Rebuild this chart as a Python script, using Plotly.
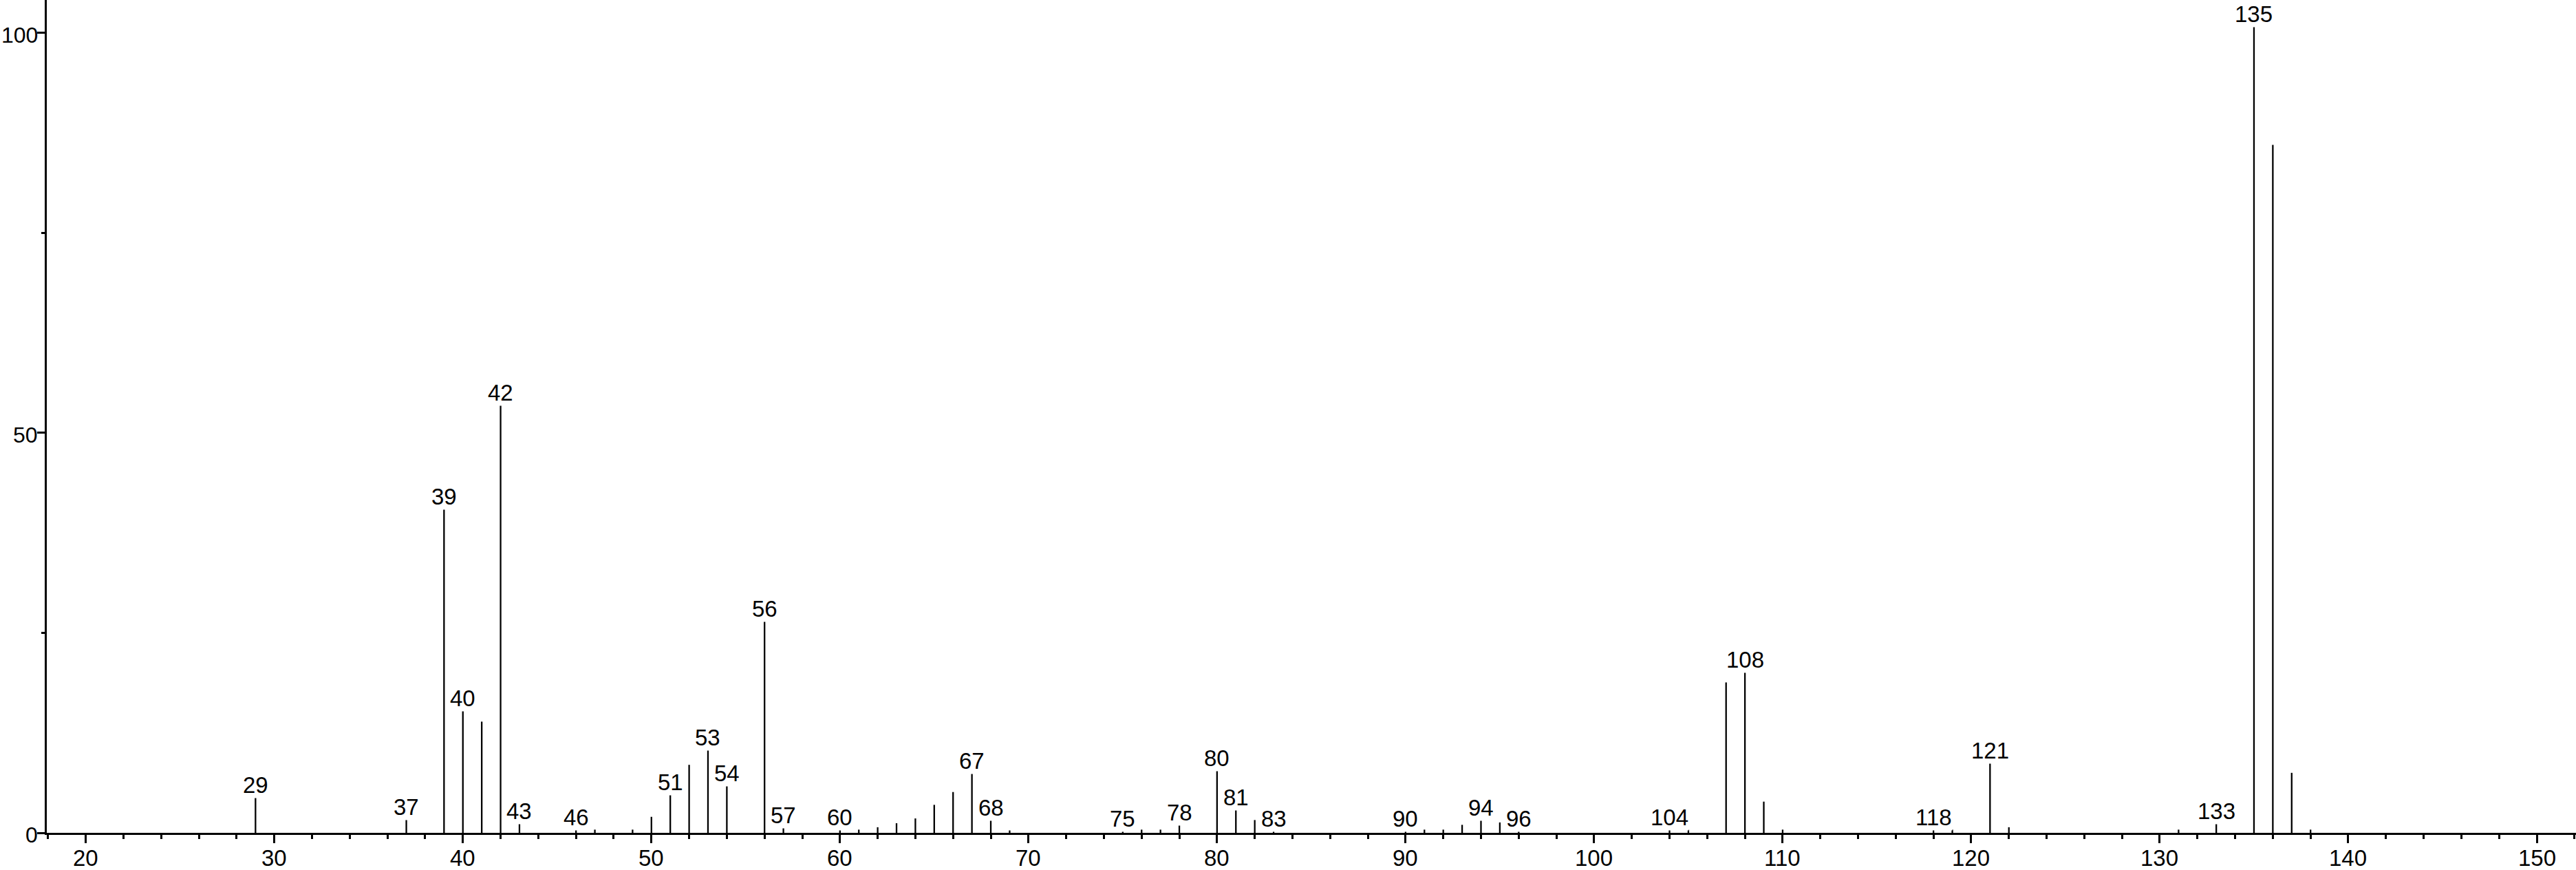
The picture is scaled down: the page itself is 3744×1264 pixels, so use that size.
import plotly.graph_objects as go

# m/z values and relative intensities
mz = [29, 37, 39, 40, 41, 42, 43, 46, 47, 49, 50, 51, 52, 53, 54, 56, 57,
      60, 61, 62, 63, 64, 65, 66, 67, 68, 69, 75, 76, 77, 78, 80, 81, 82, 83,
      90, 91, 92, 93, 94, 95, 96, 104, 105, 107, 108, 109, 110, 118, 119,
      121, 122, 131, 133, 135, 136, 137, 138]
intensity = [4.5, 1.7, 40.5, 15.3, 13.9, 53.5, 1.2, 0.4, 0.4, 0.4, 2.0, 4.8, 8.5, 10.4, 5.9, 26.5, 0.7,
             0.4, 0.4, 0.7, 1.2, 1.8, 3.5, 5.1, 7.5, 1.6, 0.3, 0.3, 0.4, 0.4, 1.0, 7.8, 2.9, 1.6, 0.3,
             0.3, 0.4, 0.4, 1.0, 1.6, 1.3, 0.3, 0.4, 0.4, 18.8, 20.1, 3.9, 0.4, 0.4, 0.4,
             8.8, 0.7, 0.4, 1.2, 100.8, 86.0, 7.5, 0.4]

labeled_mz = [29, 37, 39, 40, 42, 43, 46, 51, 53, 54, 56, 57, 60, 67, 68, 75, 78,
              80, 81, 83, 90, 94, 96, 104, 108, 118, 121, 133, 135]

x_ticks = [20, 30, 40, 50, 60, 70, 80, 90, 100, 110, 120, 130, 140, 150]
y_ticks = [0, 50, 100]

xs, ys = [], []
for m, v in zip(mz, intensity):
    xs += [m, m, None]
    ys += [0, v, None]

fig = go.Figure()
fig.add_trace(go.Scatter(x=xs, y=ys, mode="lines",
                         line=dict(color="black", width=2.3),
                         hoverinfo="skip", showlegend=False))

lookup = dict(zip(mz, intensity))
FONT = "Liberation Sans, Arial, sans-serif"
for m in labeled_mz:
    fig.add_annotation(x=m, y=lookup[m], text=str(m), showarrow=False,
                       xanchor="center", yanchor="bottom", yshift=-2,
                       bgcolor="white", borderpad=0,
                       font=dict(family=FONT, size=33, color="black"))

# tick labels placed as annotations so they fit inside the page
for t in x_ticks:
    fig.add_annotation(x=t, xref="x", y=0, yref="paper", text=str(t), showarrow=False,
                       xanchor="center", yanchor="middle", yshift=-36,
                       font=dict(family=FONT, size=33, color="black"))
for t in y_ticks:
    fig.add_annotation(x=0, xref="paper", y=t, yref="y", text=str(t), showarrow=False,
                       xanchor="right", yanchor="middle", xshift=-11, yshift=-3,
                       font=dict(family=FONT, size=32, color="black"))

fig.update_layout(
    width=3744, height=1264,
    margin=dict(l=68, r=0, t=0, b=54, autoexpand=False),
    plot_bgcolor="white", paper_bgcolor="white",
    font=dict(family=FONT, size=33, color="black"),
    showlegend=False,
)
fig.update_xaxes(
    range=[17.93, 152.08], showgrid=False, zeroline=False, automargin=False,
    showline=True, linewidth=3, linecolor="black",
    tickmode="array", tickvals=x_ticks, showticklabels=False,
    ticks="outside", ticklen=12, tickwidth=2.5, tickcolor="black",
    minor=dict(dtick=2, tick0=0, ticks="outside", ticklen=6, tickwidth=2.5, tickcolor="black"),
)
fig.update_yaxes(
    range=[0, 104.1], showgrid=False, zeroline=False, automargin=False,
    showline=True, linewidth=3, linecolor="black",
    tickmode="array", tickvals=y_ticks, showticklabels=False,
    ticks="outside", ticklen=11, tickwidth=2.5, tickcolor="black",
    minor=dict(tickvals=[25, 75], ticks="outside", ticklen=5, tickwidth=2.5, tickcolor="black"),
)

fig.write_html(
    "out.html",
    config={"displayModeBar": False},
    post_script="document.body.style.margin='0';document.body.style.overflow='hidden';",
)
